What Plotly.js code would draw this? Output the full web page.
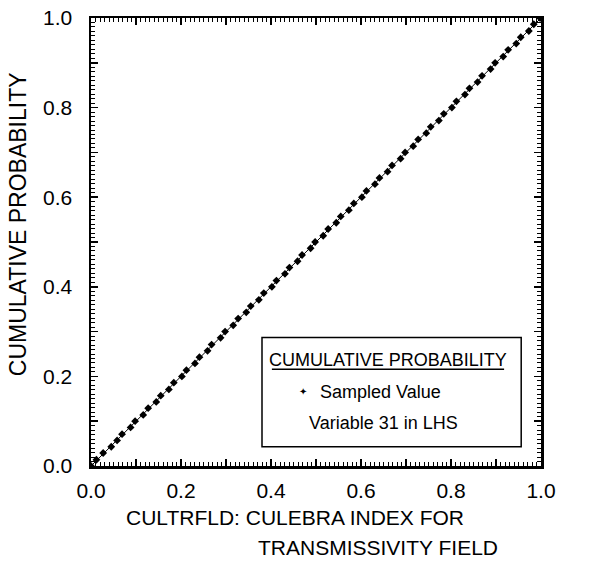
<!DOCTYPE html>
<html>
<head>
<meta charset="utf-8">
<script src="https://cdn.plot.ly/plotly-3.0.1.min.js"></script>
<style>html,body{margin:0;padding:0;background:#fff;}#chart{width:589px;height:584px;}</style>
</head>
<body>
<div id="chart"></div>
<script>
// Sampled values (LHS variable 31) and their cumulative probabilities
const sampledValue = [0.012,0.027,0.045,0.058,0.069,0.088,0.098,0.116,0.127,0.145,0.155,0.173,0.184,0.202,0.212,0.231,0.241,0.259,0.268,0.288,0.298,0.316,0.327,0.345,0.355,0.373,0.384,0.402,0.412,0.431,0.441,0.459,0.469,0.488,0.498,0.516,0.527,0.545,0.555,0.573,0.584,0.602,0.612,0.631,0.641,0.659,0.669,0.688,0.698,0.716,0.727,0.745,0.755,0.773,0.784,0.802,0.812,0.831,0.841,0.859,0.869,0.888,0.898,0.916,0.927,0.945,0.955,0.973,0.984,0.998];
const cumProb = [0.014,0.029,0.043,0.057,0.071,0.086,0.100,0.114,0.129,0.143,0.157,0.171,0.186,0.200,0.214,0.229,0.243,0.257,0.271,0.286,0.300,0.314,0.329,0.343,0.357,0.371,0.386,0.400,0.414,0.429,0.443,0.457,0.471,0.486,0.500,0.514,0.529,0.543,0.557,0.571,0.586,0.600,0.614,0.629,0.643,0.657,0.671,0.686,0.700,0.714,0.729,0.743,0.757,0.771,0.786,0.800,0.814,0.829,0.843,0.857,0.871,0.886,0.900,0.914,0.929,0.943,0.957,0.971,0.986,1.000];
const lineX = [0, 1];
const lineY = [0, 1];
const tickVals = [0,0.1,0.2,0.3,0.4,0.5,0.6,0.7,0.8,0.9,1.0];
const tickText = ['0.0','','0.2','','0.4','','0.6','','0.8','','1.0'];
const xTitle1 = 'CULTRFLD: CULEBRA INDEX FOR';
const xTitle2 = 'TRANSMISSIVITY FIELD';
const yTitle = 'CUMULATIVE PROBABILITY';
const legendTitle = 'CUMULATIVE PROBABILITY';
const legendItem = 'Sampled Value';
const legendNote = 'Variable 31 in LHS';

const FONT = 'Liberation Sans, Arial, Helvetica, sans-serif';

const traces = [
  {x: lineX, y: lineY, mode: 'lines', line: {color: '#000', width: 1}, hoverinfo: 'skip', showlegend: false},
  {x: [0].concat(sampledValue), y: [0].concat(cumProb), mode: 'markers',
   marker: {symbol: 'diamond', size: 6, color: '#000'}, showlegend: false}
];

function axis(extra) {
  return Object.assign({
    range: [0, 1], tickmode: 'array', tickvals: tickVals, ticktext: tickText,
    ticks: 'inside', ticklen: 7, tickwidth: 1.5, tickcolor: '#000',
    showline: true, linewidth: 2.5, linecolor: '#000', mirror: 'allticks',
    showgrid: false, zeroline: false, fixedrange: true,
    tickfont: {family: FONT, size: 21, color: '#000'},
    minor: {tickmode: 'linear', tick0: 0, dtick: 0.01, ticks: 'inside', ticklen: 4, tickwidth: 1, tickcolor: '#000', showgrid: false}
  }, extra);
}

const layout = {
  width: 589, height: 584,
  margin: {l: 91, r: 48, t: 18, b: 118},
  paper_bgcolor: '#fff', plot_bgcolor: '#fff',
  showlegend: false,
  font: {family: FONT, color: '#000'},
  xaxis: axis({ticklabelstandoff: 4}),
  yaxis: axis({ticklabelstandoff: 12}),
  shapes: [
    {type: 'rect', xref: 'paper', yref: 'paper', x0: 0.38, x1: 0.956, y0: 0.043, y1: 0.287,
     line: {color: '#000', width: 1.5}, fillcolor: '#fff', layer: 'above'},
    {type: 'line', xref: 'paper', yref: 'paper', x0: 0.402, x1: 0.918, y0: 0.216, y1: 0.216,
     line: {color: '#000', width: 1.5}, layer: 'above'}
  ],
  annotations: [
    {xref: 'paper', yref: 'paper', x: -0.162, y: 0.54, text: yTitle, showarrow: false, textangle: -90,
     font: {family: FONT, size: 23, color: '#000'}, xanchor: 'center', yanchor: 'middle'},
    {xref: 'paper', yref: 'paper', x: 0.66, y: 0.236, text: legendTitle, showarrow: false,
     font: {family: FONT, size: 18, color: '#000'}, xanchor: 'center', yanchor: 'middle'},
    {xref: 'paper', yref: 'paper', x: 0.471, y: 0.166, text: '✦', showarrow: false,
     font: {family: 'DejaVu Sans', size: 10, color: '#000'}, xanchor: 'center', yanchor: 'middle'},
    {xref: 'paper', yref: 'paper', x: 0.504, y: 0.166, text: legendItem, showarrow: false,
     font: {family: FONT, size: 18, color: '#000'}, xanchor: 'left', yanchor: 'middle'},
    {xref: 'paper', yref: 'paper', x: 0.651, y: 0.095, text: legendNote, showarrow: false,
     font: {family: FONT, size: 18, color: '#000'}, xanchor: 'center', yanchor: 'middle'},
    {xref: 'paper', yref: 'paper', x: 0.453, y: -0.116, text: xTitle1, showarrow: false,
     font: {family: FONT, size: 21, color: '#000'}, xanchor: 'center', yanchor: 'middle'},
    {xref: 'paper', yref: 'paper', x: 0.638, y: -0.183, text: xTitle2, showarrow: false,
     font: {family: FONT, size: 21, color: '#000'}, xanchor: 'center', yanchor: 'middle'}
  ]
};

Plotly.newPlot('chart', traces, layout, {displayModeBar: false, staticPlot: true});
</script>
</body>
</html>
